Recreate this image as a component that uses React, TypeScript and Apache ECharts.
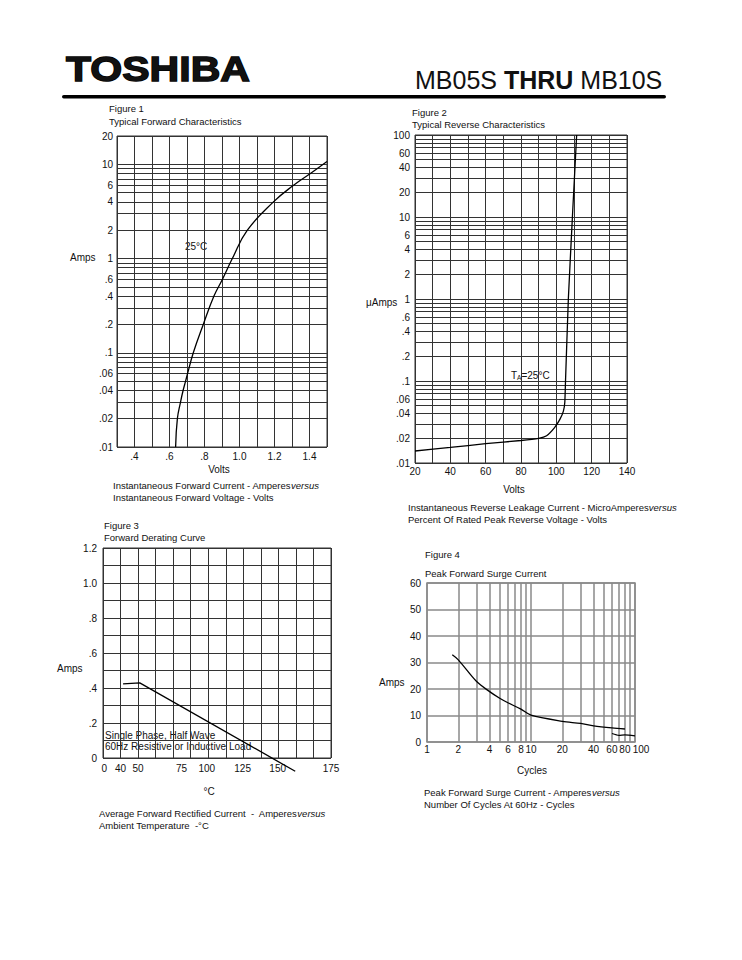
import React, { useEffect, useRef } from 'react';
import * as echarts from 'echarts';

// ---------- Figure 1: Typical Forward Characteristics ----------
const FIG1_VOLTS = [0.635, 0.645, 0.663, 0.678, 0.692, 0.703, 0.736, 0.793, 0.854, 0.902, 0.959, 1.045, 1.194, 1.309, 1.405, 1.5];
const FIG1_AMPS = [0.01, 0.02, 0.03, 0.04, 0.05, 0.06, 0.1, 0.2, 0.4, 0.6, 1, 2, 4, 6, 8, 10.7];
const FIG1_X_TICKS = [0.4, 0.6, 0.8, 1.0, 1.2, 1.4];
const FIG1_X_LABELS = ['.4', '.6', '.8', '1.0', '1.2', '1.4'];
const FIG1_Y_TICKS = [0.01, 0.02, 0.04, 0.06, 0.1, 0.2, 0.4, 0.6, 1, 2, 4, 6, 10, 20];
const FIG1_Y_LABELS = ['.01', '.02', '.04', '.06', '.1', '.2', '.4', '.6', '1', '2', '4', '6', '10', '20'];

// ---------- Figure 2: Typical Reverse Characteristics ----------
const FIG2_VOLTS = [20, 40, 60, 80, 90, 94.5, 99, 102, 104, 104.8, 105.2, 106.8, 109.1, 111.5];
const FIG2_UAMPS = [0.014, 0.0155, 0.0172, 0.0188, 0.02, 0.0215, 0.027, 0.034, 0.043, 0.055, 0.1, 1, 10, 100];
const FIG2_X_TICKS = [20, 40, 60, 80, 100, 120, 140];
const FIG2_X_LABELS = ['20', '40', '60', '80', '100', '120', '140'];
const FIG2_Y_TICKS = [0.01, 0.02, 0.04, 0.06, 0.1, 0.2, 0.4, 0.6, 1, 2, 4, 6, 10, 20, 40, 60, 100];
const FIG2_Y_LABELS = ['.01', '.02', '.04', '.06', '.1', '.2', '.4', '.6', '1', '2', '4', '6', '10', '20', '40', '60', '100'];

// ---------- Figure 3: Forward Derating Curve ----------
const FIG3_TEMP = [39.3, 51.2, 162];
const FIG3_AMPS = [0.423, 0.429, -0.076];
const FIG3_X_TICKS = [26, 37.5, 50, 81, 99, 124.5, 149.5, 187.5];
const FIG3_X_LABELS = ['0', '40', '50', '75', '100', '125', '150', '175'];
const FIG3_Y_TICKS = [0, 0.2, 0.4, 0.6, 0.8, 1.0, 1.2];
const FIG3_Y_LABELS = ['0', '.2', '.4', '.6', '.8', '1.0', '1.2'];

// ---------- Figure 4: Peak Forward Surge Current ----------
const FIG4_CYCLES = [1.75, 2, 3, 4, 5, 6, 8, 10, 20, 30, 40, 60, 80];
const FIG4_AMPS = [32.9, 31, 22.8, 19, 16.5, 14.8, 12.4, 10.1, 7.8, 7, 6.1, 5.3, 4.9];
const FIG4_LOW_CYCLES = [60, 70, 80, 100];
const FIG4_LOW_AMPS = [3.2, 2.5, 2.7, 2.3];
const FIG4_X_TICKS = [1, 2, 4, 6, 8, 10, 20, 40, 60, 80];
const FIG4_X_LABELS = ['1', '2', '4', '6', '8', '10', '20', '40', '60', '80'];
const FIG4_X_END_TICK = [100];
const FIG4_X_END_LABEL = ['100'];

const TXT = '#111';
const FONT = '"Liberation Sans", Arial, Helvetica, sans-serif';
const GRID_DARK = '#333';
const GRID_GRAY = '#8a8a8a';
const MANTISSAS = [1, 2, 3, 4, 5, 6, 7, 8, 9];

function logLines(fromExp: number, toExp: number, extra: number[]) {
  const out: number[] = [];
  for (let e = fromExp; e < toExp; e++) {
    for (const m of MANTISSAS) out.push(+(m * Math.pow(10, e)).toPrecision(6));
  }
  return out.concat(extra);
}

function lookup(ticks: number[], labels: string[], wrap?: string) {
  return (v: number) => {
    let best = 0;
    let d = Infinity;
    ticks.forEach((t, i) => {
      const dd = Math.abs(v - t);
      if (dd < d) {
        d = dd;
        best = i;
      }
    });
    return wrap ? `{${wrap}|${labels[best]}}` : labels[best];
  };
}

function grid(left: number, top: number, width: number, height: number, color: string, bw = 1) {
  return { left, top, width, height, show: true, borderColor: color, borderWidth: bw, backgroundColor: 'transparent', containLabel: false };
}

function axis(gridIndex: number, color: string, width: number, extra: any) {
  return {
    gridIndex,
    axisLine: { show: false },
    axisTick: { show: false, ...(extra.tick || {}) },
    splitLine: { show: extra.split !== false, lineStyle: { color, width } },
    axisLabel: {
      color: TXT,
      fontFamily: FONT,
      fontSize: 10,
      margin: 4,
      showMinLabel: true,
      showMaxLabel: true,
      hideOverlap: false,
      ...(extra.label || {}),
    },
    ...extra.base,
  };
}

function txt(text: string, x: number, y: number, o: any = {}) {
  const align = o.align || 'left';
  return {
    type: 'text',
    x,
    y,
    silent: true,
    scaleX: o.scaleX || 1,
    style: {
      text,
      fill: TXT,
      fontFamily: FONT,
      fontSize: o.fontSize || 9.5,
      fontWeight: o.fontWeight || 'normal',
      align,
      textAlign: align,
      verticalAlign: 'middle',
      textVerticalAlign: 'middle',
      rich: o.rich,
      stroke: o.stroke,
      lineWidth: o.lineWidth,
    },
  };
}

const CAPTION_RICH = {
  n: { fontFamily: FONT, fontSize: 9.5, fill: TXT, color: TXT },
  i: { fontFamily: FONT, fontSize: 9.5, fontStyle: 'italic', fill: TXT, color: TXT },
};

export default function App() {
  const ref = useRef<HTMLDivElement>(null);

  useEffect(() => {
    document.body.style.margin = '0';
    if (!ref.current) return;
    const chart = echarts.init(ref.current, undefined, { renderer: 'svg' });

    const lineSeries = (xi: number, yi: number, xs: number[], ys: number[], o: any = {}) => ({
      type: 'line',
      xAxisIndex: xi,
      yAxisIndex: yi,
      data: xs.map((x, i) => [x, ys[i]]),
      showSymbol: false,
      symbol: 'none',
      smooth: o.smooth ?? 0,
      clip: o.clip ?? true,
      silent: true,
      lineStyle: { color: '#000', width: o.width || 1.3 },
      z: 5,
    });

    chart.setOption({
      animation: false,
      backgroundColor: '#fff',
      grid: [
        grid(117, 136, 210, 311, GRID_DARK),
        grid(415, 135, 212, 328, GRID_DARK),
        grid(103, 548, 228, 210, GRID_DARK),
        grid(427, 583, 208, 159, GRID_GRAY, 1.5),
      ],
      xAxis: [
        axis(0, GRID_DARK, 1, {
          base: { type: 'value', min: 0.3, max: 1.5, interval: 0.1 },
          label: { customValues: FIG1_X_TICKS, formatter: lookup(FIG1_X_TICKS, FIG1_X_LABELS), margin: 4 },
        }),
        axis(1, GRID_DARK, 1, {
          base: { type: 'value', min: 20, max: 140, interval: 10 },
          label: { customValues: FIG2_X_TICKS, formatter: lookup(FIG2_X_TICKS, FIG2_X_LABELS), margin: 3 },
        }),
        axis(2, GRID_DARK, 1, {
          base: { type: 'value', min: 25, max: 187.5, interval: 12.5 },
          label: { customValues: FIG3_X_TICKS, formatter: lookup(FIG3_X_TICKS, FIG3_X_LABELS), margin: 5 },
        }),
        axis(3, GRID_GRAY, 1.5, {
          base: { type: 'log', logBase: 10, min: 1, max: 100 },
          tick: { customValues: logLines(0, 2, [100]) },
          label: { customValues: FIG4_X_TICKS, formatter: lookup(FIG4_X_TICKS, FIG4_X_LABELS), margin: 2 },
        }),
        // second x axis on figure 4 carrying only the end label "100"
        axis(3, GRID_GRAY, 1.5, {
          split: false,
          base: { type: 'log', logBase: 10, min: 1, max: 100, position: 'bottom' },
          tick: { customValues: FIG4_X_END_TICK },
          label: {
            customValues: FIG4_X_END_TICK,
            formatter: lookup(FIG4_X_END_TICK, FIG4_X_END_LABEL, 'r'),
            margin: 2,
            rich: { r: { fontFamily: FONT, fontSize: 10, color: TXT, padding: [0, 0, 0, 12] } },
          },
        }),
      ],
      yAxis: [
        axis(0, GRID_DARK, 1, {
          base: { type: 'log', logBase: 10, min: 0.01, max: 20 },
          tick: { customValues: logLines(-2, 1, [10, 20]) },
          label: { customValues: FIG1_Y_TICKS, formatter: lookup(FIG1_Y_TICKS, FIG1_Y_LABELS), margin: 4 },
        }),
        axis(1, GRID_DARK, 1, {
          base: { type: 'log', logBase: 10, min: 0.01, max: 100 },
          tick: { customValues: logLines(-2, 2, [100]) },
          label: { customValues: FIG2_Y_TICKS, formatter: lookup(FIG2_Y_TICKS, FIG2_Y_LABELS), margin: 5 },
        }),
        axis(2, GRID_DARK, 1, {
          base: { type: 'value', min: 0, max: 1.2, interval: 0.1 },
          label: { customValues: FIG3_Y_TICKS, formatter: lookup(FIG3_Y_TICKS, FIG3_Y_LABELS), margin: 6 },
        }),
        axis(3, GRID_GRAY, 1.5, {
          base: { type: 'value', min: 0, max: 60, interval: 10 },
          label: { margin: 6 },
        }),
      ],
      series: [
        lineSeries(0, 0, FIG1_VOLTS, FIG1_AMPS, { smooth: 0.45 }),
        lineSeries(1, 1, FIG2_VOLTS, FIG2_UAMPS, { smooth: 0.15 }),
        lineSeries(2, 2, FIG3_TEMP, FIG3_AMPS, { clip: false }),
        lineSeries(3, 3, FIG4_CYCLES, FIG4_AMPS, { smooth: 0.3 }),
        lineSeries(3, 3, FIG4_LOW_CYCLES, FIG4_LOW_AMPS, { smooth: 0.2, width: 1.1 }),
      ],
      graphic: [
        // header
        txt('TOSHIBA', 66, 68.5, { fontSize: 36, fontWeight: 'bold', scaleX: 1.14, stroke: '#000', lineWidth: 1.4 }),
        txt('{a|MB05S }{b|THRU}{a| MB10S}', 415, 80, {
          fontSize: 25,
          rich: {
            a: { fontFamily: FONT, fontSize: 25, fill: TXT, color: TXT },
            b: { fontFamily: FONT, fontSize: 25, fontWeight: 'bold', fill: TXT, color: TXT },
          },
        }),
        { type: 'rect', silent: true, shape: { x: 62, y: 95, width: 604, height: 3.5, r: 1.75 }, style: { fill: '#000' } },

        // figure 1
        txt('Figure 1', 109, 108),
        txt('Typical Forward Characteristics', 109, 121),
        txt('Amps', 70, 257, { fontSize: 10 }),
        txt('25°C', 185, 246, { fontSize: 10 }),
        txt('Volts', 219, 469, { align: 'center', fontSize: 10 }),
        txt('{n|Instantaneous Forward Current - Amperes}{i|versus}', 113, 485, { rich: CAPTION_RICH }),
        txt('Instantaneous Forward Voltage - Volts', 113, 497),

        // figure 2
        txt('Figure 2', 412, 112),
        txt('Typical Reverse Characteristics', 412, 124),
        txt('μAmps', 366, 302, { fontSize: 10 }),
        txt('T{s|A}=25°C', 511, 375, {
          fontSize: 10,
          rich: { s: { fontFamily: FONT, fontSize: 6.5, verticalAlign: 'bottom', fill: TXT, color: TXT, padding: [4, 0, 0, 0] } },
        }),
        txt('Volts', 514, 489, { align: 'center', fontSize: 10 }),
        txt('{n|Instantaneous Reverse Leakage Current - MicroAmperes}{i|versus}', 408, 507, { rich: CAPTION_RICH }),
        txt('Percent Of Rated Peak Reverse Voltage - Volts', 408, 519),

        // figure 3
        txt('Figure 3', 104, 525),
        txt('Forward Derating Curve', 104, 537),
        txt('Amps', 57, 668, { fontSize: 10 }),
        txt('Single Phase, Half Wave', 105, 735, { fontSize: 10 }),
        txt('60Hz Resistive or Inductive Load', 105, 746, { fontSize: 10 }),
        txt('°C', 209, 791, { align: 'center', fontSize: 10 }),
        txt('{n|Average Forward Rectified Current  -  Amperes}{i|versus}', 99, 813, { rich: CAPTION_RICH }),
        txt('Ambient Temperature  -°C', 99, 825),

        // figure 4
        txt('Figure 4', 425, 554),
        txt('Peak Forward Surge Current', 425, 573),
        txt('Amps', 379, 682, { fontSize: 10 }),
        txt('Cycles', 532, 770, { align: 'center', fontSize: 10 }),
        txt('{n|Peak Forward Surge Current - Amperes}{i|versus}', 424, 792, { rich: CAPTION_RICH }),
        txt('Number Of Cycles At 60Hz - Cycles', 424, 804),
      ],
    });

    return () => chart.dispose();
  }, []);

  return <div ref={ref} style={{ width: 742, height: 960 }} />;
}
